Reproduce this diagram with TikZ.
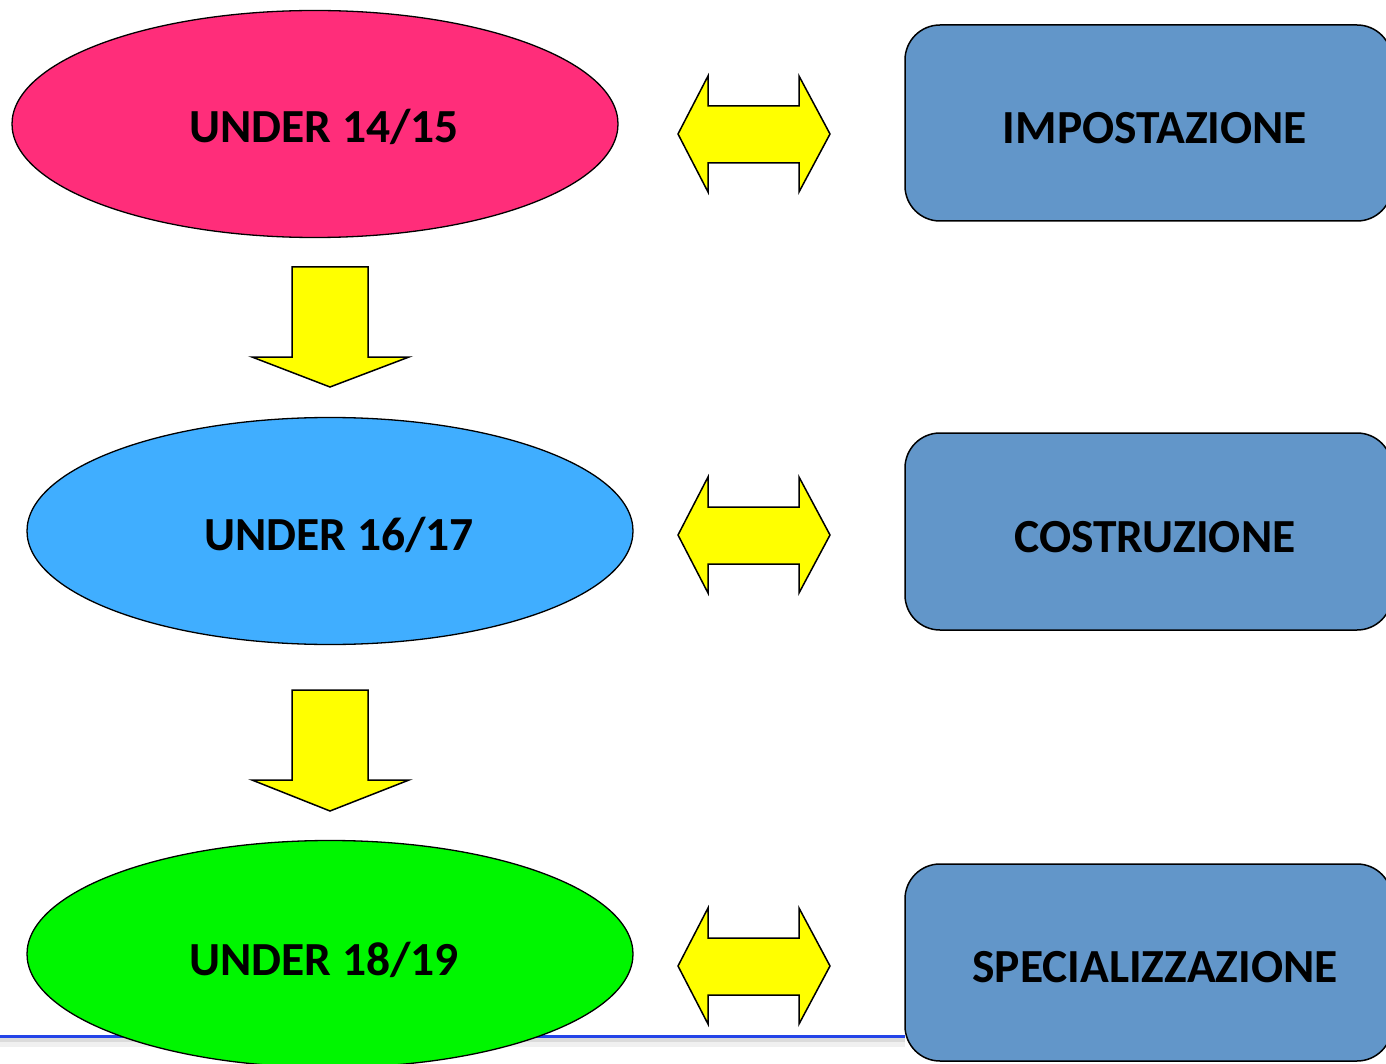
\documentclass[tikz,border=0pt]{standalone}
\usepackage{fontspec}
\setmainfont{Carlito}
\usetikzlibrary{shapes.geometric}
\definecolor{pinkE}{RGB}{255,45,122}
\definecolor{blueE}{RGB}{64,174,255}
\definecolor{greenE}{RGB}{0,246,0}
\definecolor{boxblue}{RGB}{98,150,201}
\definecolor{lineblue}{RGB}{36,68,232}
\definecolor{yellowA}{RGB}{255,255,0}
\tikzset{
  stage/.style={ellipse, draw=black, line width=1.3pt, minimum width=606pt, minimum height=227pt, inner sep=0pt},
  phase/.style={draw=black, line width=1.5pt, fill=boxblue, rounded corners=35pt},
  label48/.style={font=\fontsize{47.5}{56}\selectfont\bfseries, inner sep=0pt, anchor=base},
  blockarrow/.style={draw=black, line width=1.5pt, fill=yellowA, line join=miter},
}
\begin{document}
\begin{tikzpicture}[x=1pt,y=-1pt]
\useasboundingbox (0,0) rectangle (1386,1064);
\clip (0,0) rectangle (1386,1064);
\fill[white] (0,0) rectangle (1386,1064);
% bottom rule with shadow
\fill[black!14] (0,1038) rectangle (905,1042);
\fill[black!6] (0,1042) rectangle (905,1047);
\draw[lineblue, line width=3.5pt] (0,1036.5) -- (905,1036.5);
% ellipses
\node[stage, fill=pinkE] (u15) at (315,124) {};
\node[stage, fill=blueE] (u17) at (330,531) {};
\node[stage, fill=greenE] (u19) at (330,954) {};
\node[label48] (u15t) at (324,143) {UNDER 14/15};
\node[label48] (u17t) at (339,550) {UNDER 16/17};
\node[label48] (u19t) at (324,975) {UNDER 18/19};
% down arrows
\draw[blockarrow] (292,267) -- (368,267) -- (368,357) -- (409,357) -- (330,387) -- (252,357) -- (292,357) -- cycle;
\draw[blockarrow] (292,690) -- (368,690) -- (368,780) -- (409,780) -- (330,811) -- (252,780) -- (292,780) -- cycle;
% double arrows
\foreach \c in {134,535,966}{
  \draw[blockarrow] (678,\c) -- (708,\c-58) -- (708,\c-28) -- (799,\c-28) -- (799,\c-58) -- (830,\c) -- (799,\c+58) -- (799,\c+29) -- (708,\c+29) -- (708,\c+58) -- cycle;
}
% boxes
\draw[phase] (905,25) rectangle (1392,221);
\draw[phase] (905,433) rectangle (1392,630);
\draw[phase] (905,864) rectangle (1392,1061);
\node[label48] (imp) at (1155,144) {IMPOSTAZIONE};
\node[label48] (cos) at (1155,552) {COSTRUZIONE};
\node[label48] (spe) at (1155,982) {SPECIALIZZAZIONE};
\end{tikzpicture}
\end{document}
